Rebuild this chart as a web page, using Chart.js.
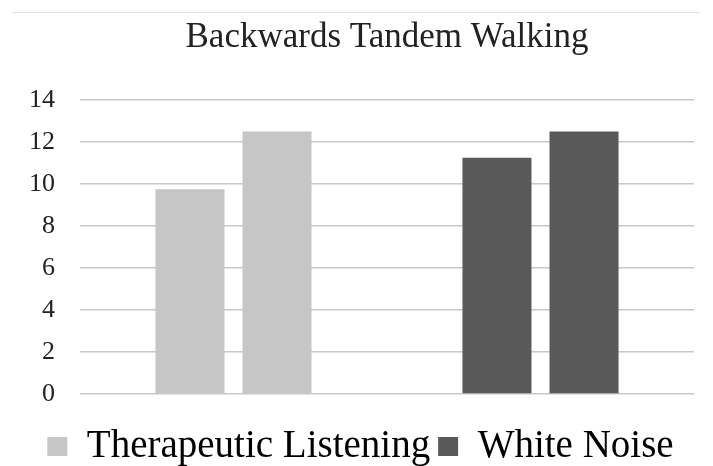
<!DOCTYPE html>
<html>
<head>
<meta charset="utf-8">
<script src="https://cdn.jsdelivr.net/npm/chart.js@4"></script>
<style>
  html, body { margin: 0; padding: 0; background: #ffffff; }
  #wrap { position: relative; width: 713px; height: 466px; }
  #topline { position: absolute; left: 12px; top: 12px; width: 688px; height: 0; border-top: 1px solid #e2e2e2; }
  canvas { position: absolute; left: 0; top: 0; }
</style>
</head>
<body>
<div id="wrap">
  <div id="topline"></div>
  <canvas id="c" width="713" height="466"></canvas>
</div>
<script>
const chartTitle = 'Backwards Tandem Walking';
const categories = ['Therapeutic Listening', 'White Noise'];
const firstBars = [9.75, 11.25];
const secondBars = [12.5, 12.5];
const yTicks = [0, 2, 4, 6, 8, 10, 12, 14];
const categoryColors = ['#c6c6c6', '#595959'];

const serif = '"Liberation Serif", "DejaVu Serif", serif';

new Chart(document.getElementById('c'), {
  type: 'bar',
  data: {
    labels: categories,
    datasets: [
      { label: 'first', data: firstBars, backgroundColor: categoryColors, borderWidth: 0,
        categoryPercentage: 0.567, barPercentage: 0.793 },
      { label: 'second', data: secondBars, backgroundColor: categoryColors, borderWidth: 0,
        categoryPercentage: 0.567, barPercentage: 0.793 }
    ]
  },
  options: {
    responsive: false,
    animation: false,
    layout: { padding: { left: 27, right: 19, top: 0, bottom: -10 } },
    plugins: {
      title: {
        display: true,
        fullSize: false,
        text: chartTitle,
        color: '#222222',
        font: { family: serif, size: 35, weight: 'normal' },
        padding: { top: 17, bottom: 41 }
      },
      legend: {
        display: true,
        position: 'bottom',
        labels: {
          color: '#222222',
          font: { family: serif, size: 39 },
          boxWidth: 20,
          boxHeight: 19,
          padding: 8,
          generateLabels: () => categories.map((name, i) => ({
            text: name,
            fillStyle: categoryColors[i],
            strokeStyle: categoryColors[i],
            lineWidth: 0,
            hidden: false,
            index: i
          }))
        },
        onClick: () => {}
      },
      tooltip: { enabled: false }
    },
    scales: {
      x: {
        grid: { display: false },
        border: { display: false },
        ticks: { display: false },
        afterFit: (axis) => { axis.height = 25; }
      },
      y: {
        min: 0,
        max: 14,
        afterBuildTicks: (axis) => { axis.ticks = yTicks.map(v => ({ value: v })); },
        afterFit: (axis) => { axis.width = 53; },
        grid: { color: '#c8c8c8', lineWidth: 1.5, drawTicks: false },
        border: { display: false },
        ticks: {
          color: '#222222',
          font: { family: serif, size: 26 },
          padding: 25
        }
      }
    }
  }
});
</script>
</body>
</html>
